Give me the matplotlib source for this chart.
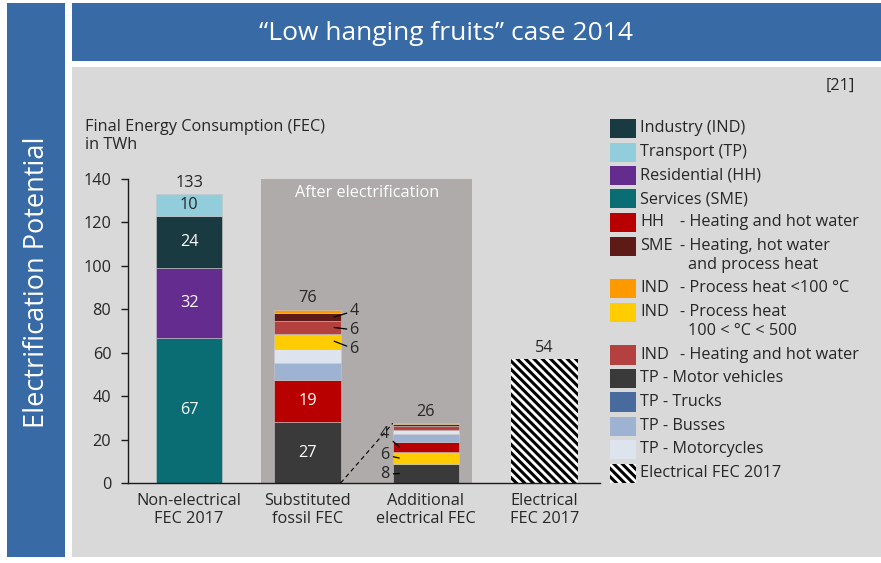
import matplotlib
matplotlib.use("Agg")
import matplotlib.pyplot as plt
from matplotlib.patches import Rectangle
import numpy as np

plt.rcParams['font.family'] = ['Open Sans', 'DejaVu Sans']
plt.rcParams['hatch.linewidth'] = 2.2

# ---------------- data ----------------
categories = ["Non-electrical\nFEC 2017", "Substituted\nfossil FEC",
              "Additional\nelectrical FEC", "Electrical\nFEC 2017"]
total_labels = ["133", "76", "26", "54"]

colors = {
    "Industry (IND)": "#193a41",
    "Transport (TP)": "#92cddc",
    "Residential (HH)": "#652c90",
    "Services (SME)": "#0b6d74",
    "HH heat": "#b80000",
    "SME heat": "#5e1a17",
    "IND <100": "#ff9900",
    "IND 100-500": "#ffcc00",
    "IND heat": "#b4413f",
    "TP motor": "#3a3a3a",
    "TP trucks": "#486a9c",
    "TP busses": "#9eb3d1",
    "TP moto": "#dee4ee",
}

nonelec_keys = ["Services (SME)", "Residential (HH)", "Industry (IND)", "Transport (TP)"]
nonelec_values = [67, 32, 24, 10]
nonelec_labels = ["67", "32", "24", "10"]

subst_keys = ["TP motor", "HH heat", "TP trucks", "TP busses", "TP moto",
              "IND 100-500", "IND heat", "SME heat", "IND <100"]
subst_values = [28.0, 19.6, 0.0, 7.5, 6.8, 6.8, 5.8, 3.8, 1.4]
subst_inner = ["27", "19", "", "", "", "", "", "", ""]
subst_side = ["", "", "", "", "", "6", "6", "4", ""]

addit_keys = ["TP motor", "IND 100-500", "HH heat", "TP trucks", "TP busses",
              "TP moto", "IND heat", "SME heat", "IND <100"]
addit_values = [8.7, 5.6, 4.7, 0.0, 3.7, 1.7, 1.9, 0.7, 0.5]
addit_side = ["8", "6", "4", "", "", "", "", "", ""]

elec_value = 57

legend_items = [
    ("Industry (IND)", "Industry (IND)", None, None),
    ("Transport (TP)", "Transport (TP)", None, None),
    ("Residential (HH)", "Residential (HH)", None, None),
    ("Services (SME)", "Services (SME)", None, None),
    ("HH heat", "HH", "- Heating and hot water", None),
    ("SME heat", "SME", "- Heating, hot water", "and process heat"),
    ("IND <100", "IND", "- Process heat <100 °C", None),
    ("IND 100-500", "IND", "- Process heat", "100 < °C < 500"),
    ("IND heat", "IND", "- Heating and hot water", None),
    ("TP motor", "TP - Motor vehicles", None, None),
    ("TP trucks", "TP - Trucks", None, None),
    ("TP busses", "TP - Busses", None, None),
    ("TP moto", "TP - Motorcycles", None, None),
    ("hatch", "Electrical FEC 2017", None, None),
]
legend_rows_y = [128, 152, 175, 199, 222, 246, 288, 312, 355, 378, 402, 426, 449, 473]

# ---------------- figure ----------------
W, H = 881, 563
fig = plt.figure(figsize=(W / 100, H / 100), dpi=100)
fig.patch.set_facecolor("white")
FS = 11.7

def fx(x):
    return x / W

def fy(y):
    return 1 - y / H

BLUE = "#386aa5"
TXT = "#262626"

def frect(x0, y0, x1, y1, color, zorder=0):
    r = Rectangle((fx(x0), fy(y1)), fx(x1) - fx(x0), fy(y0) - fy(y1),
                  transform=fig.transFigure, facecolor=color, edgecolor="none",
                  zorder=zorder)
    fig.patches.append(r)
    return r

frect(7, 3, 65, 557, BLUE)
frect(72, 3, 881, 61, BLUE)
frect(72, 67, 881, 557, "#d9d9d9")

fig.text(fx(446), fy(33), "\u201cLow hanging fruits\u201d case 2014", color="white",
         fontsize=19, ha="center", va="center")
fig.text(fx(37), fy(282), "Electrification Potential", color="white",
         fontsize=19.5, ha="center", va="center", rotation=90)
fig.text(fx(855), fy(86), "[21]", color=TXT, fontsize=FS, ha="right", va="center")
fig.text(fx(85), fy(136), "Final Energy Consumption (FEC)\nin TWh", color=TXT,
         fontsize=FS, ha="left", va="center", linespacing=1.15)

# ---------------- axes ----------------
ax = fig.add_axes([fx(128), fy(483), fx(600) - fx(128), fy(179) - fy(483)])
ax.set_zorder(5)
ax.patch.set_visible(False)
ax.set_xlim(-0.516, 3.47)
ax.set_ylim(0, 140)
for s in ["top", "right"]:
    ax.spines[s].set_visible(False)
for s in ["left", "bottom"]:
    ax.spines[s].set_color("#1a1a1a")
    ax.spines[s].set_linewidth(1.0)
ax.set_yticks(np.arange(0, 141, 20))
ax.tick_params(axis="y", direction="out", length=5, width=1, labelsize=FS,
               labelcolor=TXT, color="#1a1a1a", pad=7)
ax.set_xticks(range(len(categories)))
ax.set_xticklabels(categories, fontsize=FS, color=TXT, linespacing=1.2)
ax.tick_params(axis="x", length=0, pad=7)

bw = 0.56
# After electrification box
ax.add_patch(Rectangle((0.61, 0), 1.78, 140, facecolor="#afabab", edgecolor="none", zorder=0))
ax.text(1.5, 133.5, "After electrification", color="white", fontsize=FS,
        ha="center", va="center", zorder=1)

def stack(x, keys, values, edge="#c8c8c8"):
    bottoms = np.concatenate([[0], np.cumsum(values)[:-1]])
    for k, v, b in zip(keys, values, bottoms):
        if v > 0:
            ax.bar(x, v, bw, bottom=b, color=colors[k], edgecolor=edge,
                   linewidth=0.4, zorder=2)
    return bottoms

b0 = stack(0, nonelec_keys, nonelec_values)
for lab, v, b, k in zip(nonelec_labels, nonelec_values, b0, nonelec_keys):
    c = TXT if k == "Transport (TP)" else "white"
    ax.text(0, b + v / 2, lab, color=c, fontsize=FS, ha="center", va="center", zorder=3)

b1 = stack(1, subst_keys, subst_values)
for lab, v, b in zip(subst_inner, subst_values, b1):
    if lab:
        ax.text(1, b + v / 2, lab, color="white", fontsize=FS, ha="center",
                va="center", zorder=3)
ys_sub = [79.3, 70.5, 61.7]
j = 0
for lab, v, b in list(zip(subst_side, subst_values, b1))[::-1]:
    if lab:
        ax.annotate(lab, xy=(1 + bw / 2 - 0.055, b + v / 2), xytext=(1.355, ys_sub[j]),
                    fontsize=FS, color=TXT, ha="left", va="center",
                    arrowprops=dict(arrowstyle="-", color="black", lw=0.9,
                                    shrinkA=0, shrinkB=0), zorder=4)
        j += 1

b2 = stack(2, addit_keys, addit_values)
ys_add = [4.1, 12.9, 22.6]
j = 0
for lab, v, b in zip(addit_side, addit_values, b2):
    if lab:
        ax.annotate(lab, xy=(2 - bw / 2 + 0.055, b + v / 2), xytext=(1.69, ys_add[j]),
                    fontsize=FS, color=TXT, ha="right", va="center",
                    arrowprops=dict(arrowstyle="-", color="black", lw=0.9,
                                    shrinkA=1, shrinkB=0), zorder=4)
        j += 1

ax.bar(3, elec_value, bw, color="white", edgecolor="black", hatch="\\\\\\\\",
       linewidth=0, zorder=2)

totals = [sum(nonelec_values), sum(subst_values), sum(addit_values), elec_value]
for i, (t, lab) in enumerate(zip(totals, total_labels)):
    ax.annotate(lab, xy=(i, t), xytext=(0, 2.5), textcoords="offset points",
                ha="center", va="bottom", fontsize=FS, color=TXT, zorder=4)

# dashed connector
ax.plot([1 + bw / 2, 2 - bw / 2], [0, sum(addit_values)], ls=(0, (4, 3)),
        color="black", lw=0.8, zorder=3, clip_on=False)

# ---------------- legend ----------------
for (key, t1, t2, t3), yc in zip(legend_items, legend_rows_y):
    if key == "hatch":
        r = Rectangle((fx(610), fy(yc + 9.5)), fx(636) - fx(610), fy(yc - 9.5) - fy(yc + 9.5),
                      transform=fig.transFigure, facecolor="white", edgecolor="black",
                      hatch="\\\\\\\\", linewidth=0, zorder=1)
        fig.patches.append(r)
    else:
        frect(610, yc - 9.5, 636, yc + 9.5, colors[key], zorder=1)
    fig.text(fx(640), fy(yc), t1, color=TXT, fontsize=FS, ha="left", va="center")
    if t2:
        fig.text(fx(680), fy(yc), t2, color=TXT, fontsize=FS, ha="left", va="center")
    if t3:
        fig.text(fx(688), fy(yc + 19), t3, color=TXT, fontsize=FS, ha="left", va="center")

fig.savefig("out.png", dpi=100, facecolor="white")
